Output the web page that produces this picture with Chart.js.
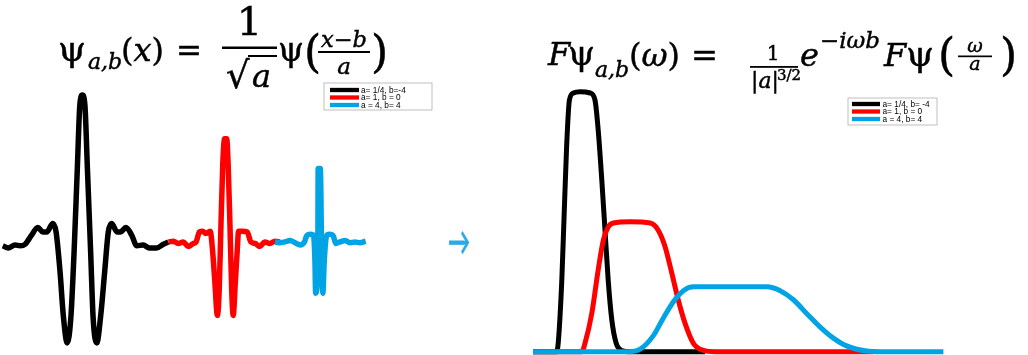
<!DOCTYPE html>
<html><head><meta charset="utf-8">
<script src="https://cdn.jsdelivr.net/npm/chart.js@4.4.0/dist/chart.umd.min.js"></script>
<style>
html,body{margin:0;padding:0;background:#fff;}
body{width:1028px;height:355px;position:relative;overflow:hidden;}
#w1{position:absolute;left:0;top:80px;width:375px;height:275px;}
#w2{position:absolute;left:525px;top:80px;width:430px;height:275px;}
#ov{position:absolute;left:0;top:0;pointer-events:none;}
.m{font-family:"DejaVu Serif",serif;fill:#000;stroke:#000;stroke-width:0.45;}
.i{font-style:italic;}
.lg{font-family:"Liberation Sans",Arial,sans-serif;font-size:8.3px;fill:#000;}
</style>
</head><body>
<div id="w1"><canvas id="c1" width="375" height="275"></canvas></div>
<div id="w2"><canvas id="c2" width="430" height="275"></canvas></div>
<svg id="ov" width="1028" height="355" xmlns="http://www.w3.org/2000/svg">
  <!-- left formula -->
  <text class="m" x="58" y="61" font-size="33" textLength="28" lengthAdjust="spacingAndGlyphs">ψ</text>
  <text class="m i" x="88" y="69" font-size="22">a,b</text>
  <text class="m" x="121" y="61" font-size="32">(<tspan class="i">x</tspan>)</text>
  <text class="m" x="176" y="61" font-size="32" textLength="26" lengthAdjust="spacingAndGlyphs">=</text>
  <text class="m" x="249.5" y="35" font-size="40" text-anchor="middle">1</text>
  <rect x="222" y="46.5" width="55" height="2.5" fill="#000"/>
  <text class="m" x="226" y="88" font-size="37">√</text>
  <rect x="248" y="55" width="29" height="2" fill="#000"/>
  <text class="m i" x="252" y="87" font-size="32">a</text>
  <text class="m" x="278" y="61" font-size="33" textLength="26" lengthAdjust="spacingAndGlyphs">ψ</text>
  <text class="m" x="304" y="67" font-size="44">(</text>
  <text class="m" x="321" y="47" font-size="22" textLength="46" lengthAdjust="spacingAndGlyphs"><tspan class="i">x</tspan>−<tspan class="i">b</tspan></text>
  <rect x="318" y="51" width="52" height="2" fill="#000"/>
  <text class="m i" x="344" y="74" font-size="23" text-anchor="middle">a</text>
  <text class="m" x="371" y="67" font-size="44">)</text>

  <!-- right formula -->
  <text class="m i" x="548" y="65" font-size="32">F</text>
  <text class="m" x="568" y="65" font-size="33" textLength="27" lengthAdjust="spacingAndGlyphs">ψ</text>
  <text class="m i" x="595" y="77" font-size="22">a,b</text>
  <text class="m" x="629" y="66" font-size="32">(<tspan class="i">ω</tspan>)</text>
  <text class="m" x="691" y="66" font-size="32" textLength="27" lengthAdjust="spacingAndGlyphs">=</text>
  <text class="m" x="773" y="60" font-size="20" text-anchor="middle">1</text>
  <rect x="750" y="66" width="48" height="1.8" fill="#000"/>
  <text class="m" x="751" y="88" font-size="22">|<tspan class="i">a</tspan>|</text>
  <text class="m" x="777" y="80" font-size="15">3/2</text>
  <text class="m i" x="800" y="66" font-size="32">e</text>
  <text class="m" x="820" y="48" font-size="22" textLength="60" lengthAdjust="spacingAndGlyphs">−<tspan class="i">iωb</tspan></text>
  <text class="m i" x="884" y="66" font-size="32">F</text>
  <text class="m" x="906" y="66" font-size="33" textLength="28" lengthAdjust="spacingAndGlyphs">ψ</text>
  <text class="m" x="938" y="70" font-size="44">(</text>
  <text class="m i" x="975" y="52" font-size="19" text-anchor="middle">ω</text>
  <rect x="958" y="55.5" width="34" height="1.7" fill="#000"/>
  <text class="m i" x="975" y="70" font-size="19" text-anchor="middle">a</text>
  <text class="m" x="1000" y="70" font-size="44">)</text>

  <!-- arrow -->
  <text x="448" y="255" font-size="38" font-family="Lato" fill="#2aa9e6" stroke="#2aa9e6" stroke-width="1" textLength="22" lengthAdjust="spacingAndGlyphs">→</text>

  <!-- left legend -->
  <rect x="324" y="83" width="108" height="27" fill="#fff" stroke="#b0b0b0" stroke-width="0.8"/>
  <line x1="330" x2="359" y1="90" y2="90" stroke="#000" stroke-width="4.3"/>
  <line x1="330" x2="359" y1="97.5" y2="97.5" stroke="#ff0000" stroke-width="4.3"/>
  <line x1="330" x2="359" y1="105" y2="105" stroke="#00a4e4" stroke-width="4.3"/>
  <text class="lg" x="361" y="92.9" id="lt1"></text>
  <text class="lg" x="361" y="100.4" id="lt2"></text>
  <text class="lg" x="361" y="107.9" id="lt3"></text>

  <!-- right legend -->
  <rect x="848" y="98" width="89" height="27" fill="#fff" stroke="#b0b0b0" stroke-width="0.8"/>
  <line x1="852" x2="880" y1="104" y2="104" stroke="#000" stroke-width="4.3"/>
  <line x1="852" x2="880" y1="111.5" y2="111.5" stroke="#ff0000" stroke-width="4.3"/>
  <line x1="852" x2="880" y1="119" y2="119" stroke="#00a4e4" stroke-width="4.3"/>
  <text class="lg" x="882.5" y="106.9" id="rt1"></text>
  <text class="lg" x="882.5" y="114.4" id="rt2"></text>
  <text class="lg" x="882.5" y="121.9" id="rt3"></text>
</svg>
<script>
// ---- legend labels ----
const leftLabels  = ["a= 1/4, b=-4", "a= 1, b = 0", "a = 4, b= 4"];
const rightLabels = ["a= 1/4, b= -4", "a= 1, b = 0", "a = 4, b= 4"];
const colors = ["#000000", "#ff0000", "#00a4e4"];

// ---- left panel: wavelets psi_{a,b}(x) ----
const blackX = [-6.20,-6.05,-5.86,-5.72,-5.58,-5.40,-5.23,-5.09,-4.98,-4.81,-4.72,-4.61,-4.52,-4.41,-4.31,-4.22,-4.13,-4.06,-3.99,-3.92,-3.85,-3.76,-3.69,-3.59,-3.48,-3.37,-3.27,-3.18,-3.02,-2.93,-2.78,-2.62,-2.48,-2.30,-2.13,-1.93,-1.74,-1.60];
const blackY = [-0.01,-0.04,0,-0.01,0.01,0.13,0.23,0.17,0.17,0.28,0.17,-0.35,-0.92,-1.28,-0.95,-0.09,1.00,1.83,1.96,1.83,1.00,-0.09,-0.96,-1.28,-0.92,-0.35,0.17,0.28,0.17,0.17,0.23,0.13,-0.01,0,-0.04,-0.04,0.01,0.04];
const redX = [-1.60,-1.46,-1.33,-1.19,-1.05,-0.91,-0.83,-0.74,-0.65,-0.56,-0.44,-0.37,-0.31,-0.24,-0.19,-0.14,-0.09,-0.04,0.02,0.06,0.11,0.16,0.20,0.26,0.31,0.35,0.46,0.59,0.69,0.81,0.94,1.08,1.22,1.36,1.50];
const redY = [0.04,0.05,0.02,0.04,-0.02,0.02,0.04,0.17,0.18,0.15,0.18,-0.09,-0.48,-0.92,-0.61,0.26,1.05,1.39,1.39,1.05,0.26,-0.61,-0.92,-0.48,-0.09,0.18,0.18,0.17,0.04,0.02,-0.02,0.04,0.02,0.05,0.04];
const blueX = [1.36,1.50,1.64,1.78,1.92,2.06,2.18,2.24,2.33,2.43,2.47,2.49,2.55,2.56,2.62,2.66,2.69,2.73,2.80,2.89,2.98,3.05,3.17,3.31,3.44,3.58,3.72,3.88];
const blueY = [0.04,0.03,0.04,0.06,0.03,0,0.04,0.12,0.14,0.13,-0.20,-0.63,-0.20,1.00,1.00,-0.20,-0.63,-0.20,0.13,0.14,0.12,0.02,0.04,0.06,0.03,0.04,0.03,0.05];

// ---- right panel: Fourier transforms |F psi_{a,b}(w)| ----
const fBlackX = [0,0.59,0.63,0.72,0.78,0.84,0.91,1.01,1.18,1.43,1.55,1.63,1.72,1.80,1.88,1.97,2.08,2.22,2.43,4.3];
const fBlackY = [0,0,0.13,1.10,2.13,3.15,3.87,3.98,4.0,3.98,3.87,3.41,2.64,1.87,1.10,0.49,0.13,0.02,0,0];
const fRedX = [0,1.22,1.30,1.47,1.63,1.76,1.88,2.01,2.43,2.93,3.13,3.30,3.47,3.63,3.80,4.01,4.26,4.55,8.5];
const fRedY = [0,0,0.13,0.59,1.26,1.72,1.92,1.98,2.0,1.98,1.87,1.62,1.21,0.80,0.44,0.13,0.02,0,0];
const fBlueX = [0,2.37,2.68,3.0,3.26,3.51,3.76,4.01,5.84,6.18,6.51,6.84,7.18,7.51,7.84,8.34,8.68,10.26];
const fBlueY = [0,0,0.04,0.24,0.52,0.77,0.94,1.0,1.0,0.94,0.80,0.59,0.38,0.21,0.09,0.01,0,0];

leftLabels.forEach((t,i)=>document.getElementById('lt'+(i+1)).textContent=t);
rightLabels.forEach((t,i)=>document.getElementById('rt'+(i+1)).textContent=t);

const pts = (xs, ys) => xs.map((x, i) => ({x, y: ys[i]}));
const ds = (label, xs, ys, color, w, order) => ({
  label, data: pts(xs, ys), borderColor: color, backgroundColor: color,
  borderWidth: w, pointRadius: 0, fill: false, cubicInterpolationMode: 'monotone',
  clip: false, order, borderCapStyle: 'butt', borderJoinStyle: 'round'
});
const baseOpts = (xmin, xmax, ymin, ymax) => ({
  responsive: false, animation: false, maintainAspectRatio: false,
  layout: {padding: 0},
  plugins: {legend: {display: false}, tooltip: {enabled: false}},
  scales: {
    x: {type: 'linear', display: false, min: xmin, max: xmax},
    y: {type: 'linear', display: false, min: ymin, max: ymax}
  }
});

new Chart(document.getElementById('c1'), {
  type: 'line',
  data: {datasets: [
    ds(leftLabels[0], blackX, blackY, colors[0], 5.5, 2),
    ds(leftLabels[1], redX, redY, colors[1], 5.5, 1),
    ds(leftLabels[2], blueX, blueY, colors[2], 5.5, 0)
  ]},
  options: baseOpts(-6.278, 4.139, -1.438, 2.157)
});

new Chart(document.getElementById('c2'), {
  type: 'line',
  data: {datasets: [
    ds(rightLabels[0], fBlackX, fBlackY, colors[0], 5, 2),
    ds(rightLabels[1], fRedX, fRedY, colors[1], 5, 1),
    ds(rightLabels[2], fBlueX, fBlueY, colors[2], 5, 0)
  ]},
  options: baseOpts(-0.2, 10.55, -0.05, 4.18)
});
</script>
</body></html>
